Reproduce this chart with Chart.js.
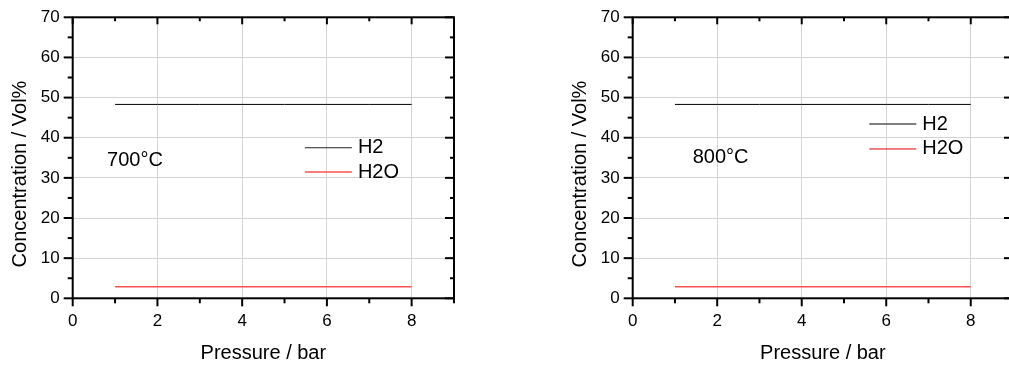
<!DOCTYPE html>
<html>
<head>
<meta charset="utf-8">
<script src="https://cdn.jsdelivr.net/npm/chart.js@4.4.1/dist/chart.umd.min.js"></script>
<style>
  html, body { margin:0; padding:0; background:#fff; width:1009px; height:365px; overflow:hidden; }
  .panel { position:absolute; top:0; width:500px; height:365px; }
</style>
</head>
<body>
<div class="panel" style="left:0px"><canvas id="c1"></canvas></div>
<div class="panel" style="left:560px"><canvas id="c2"></canvas></div>
<script>
// ---- data ----
const pressure = [1, 2, 3, 4, 5, 6, 7, 8];
const h2_700  = [48.3, 48.3, 48.3, 48.3, 48.3, 48.3, 48.3, 48.3];
const h2o_700 = [2.9, 2.9, 2.9, 2.9, 2.9, 2.9, 2.9, 2.9];
const h2_800  = [48.3, 48.3, 48.3, 48.3, 48.3, 48.3, 48.3, 48.3];
const h2o_800 = [2.9, 2.9, 2.9, 2.9, 2.9, 2.9, 2.9, 2.9];
const seriesNames = ['H2', 'H2O'];
const panelLabels = ['700°C', '800°C'];
const xMajorTicks = [0, 2, 4, 6, 8];
const xMinorTicks = [1, 3, 5, 7, 9];
const yMajorTicks = [0, 10, 20, 30, 40, 50, 60, 70];
const yMinorTicks = [5, 15, 25, 35, 45, 55, 65];
const xTitle = 'Pressure / bar';
const yTitle = 'Concentration / Vol%';

const FONT = '"Liberation Sans", Arial, sans-serif';
Chart.defaults.font.family = FONT;
Chart.defaults.color = '#000';

const toPts = (xs, ys) => xs.map((v, i) => ({ x: v, y: ys[i] }));

const framePlugin = {
  id: 'frame',
  afterDraw(chart, args, o) {
    const { ctx, chartArea: a, scales: { x, y } } = chart;
    ctx.save();
    ctx.strokeStyle = '#000';
    const line = (x1, y1, x2, y2, w) => { ctx.lineWidth = w; ctx.beginPath(); ctx.moveTo(x1, y1); ctx.lineTo(x2, y2); ctx.stroke(); };
    xMajorTicks.forEach(v => { const p = x.getPixelForValue(v); line(p, a.bottom, p, a.bottom + 8, 2); line(p, a.top, p, a.top + 7, 2); });
    xMinorTicks.forEach(v => { const p = x.getPixelForValue(v); line(p, a.bottom, p, a.bottom + 5, 2); line(p, a.top, p, a.top + 4, 2); });
    yMajorTicks.forEach(v => { const p = y.getPixelForValue(v); line(a.left - 9, p, a.left, p, 2); line(a.right - 9, p, a.right, p, 2); });
    yMinorTicks.forEach(v => { const p = y.getPixelForValue(v); line(a.left - 5, p, a.left, p, 2); line(a.right - 4, p, a.right, p, 2); });
    ctx.lineWidth = 2;
    ctx.strokeRect(a.left, a.top, a.right - a.left, a.bottom - a.top);

    // legend
    ctx.font = '20px ' + FONT;
    ctx.textBaseline = 'middle';
    ctx.textAlign = 'left';
    o.legend.forEach(l => {
      const x1 = x.getPixelForValue(l.x1), x2 = x.getPixelForValue(l.x2), py = y.getPixelForValue(l.y);
      ctx.strokeStyle = l.color; ctx.lineWidth = l.width;
      ctx.beginPath(); ctx.moveTo(x1, py); ctx.lineTo(x2, py); ctx.stroke();
      ctx.fillStyle = '#000';
      ctx.fillText(l.label, x2 + 6, py);
    });
    // annotation
    ctx.fillText(o.note.text, x.getPixelForValue(o.note.x), y.getPixelForValue(o.note.y));

    // axis titles
    ctx.textAlign = 'center';
    ctx.textBaseline = 'alphabetic';
    ctx.fillText(xTitle, (a.left + a.right) / 2, 359);
    ctx.translate(26, 174);
    ctx.rotate(-Math.PI / 2);
    ctx.fillText(yTitle, 0, 0);
    ctx.restore();
  }
};

function makeChart(id, h2, h2o, opts) {
  return new Chart(document.getElementById(id), {
    type: 'line',
    data: {
      datasets: [
        { label: seriesNames[0], data: toPts(pressure, h2), borderColor: '#000', borderWidth: 1, pointRadius: 0, tension: 0 },
        { label: seriesNames[1], data: toPts(pressure, h2o), borderColor: '#ff5050', borderWidth: 1.5, pointRadius: 0, tension: 0 }
      ]
    },
    options: {
      responsive: true,
      maintainAspectRatio: false,
      animation: false,
      events: [],
      layout: { padding: { left: 0, right: opts.right, top: 17.3, bottom: 0 } },
      plugins: { legend: { display: false }, tooltip: { enabled: false }, frame: opts.frame },
      scales: {
        x: {
          type: 'linear', min: 0, max: 9,
          afterBuildTicks: s => { s.ticks = xMajorTicks.map(v => ({ value: v })); },
          afterFit: s => { s.height = 66.7; s.paddingLeft = 0; s.paddingRight = 0; },
          grid: { color: '#d4d4d4', lineWidth: 1, drawTicks: false },
          border: { display: false },
          ticks: { font: { size: 17 }, color: '#000', padding: 13, maxRotation: 0 }
        },
        y: {
          type: 'linear', min: 0, max: 70,
          afterBuildTicks: s => { s.ticks = yMajorTicks.map(v => ({ value: v })); },
          afterFit: s => { s.width = 72.7; s.paddingTop = 0; s.paddingBottom = 0; },
          grid: { color: '#d4d4d4', lineWidth: 1, drawTicks: false },
          border: { display: false },
          ticks: { font: { size: 17 }, color: '#000', padding: 13 }
        }
      }
    },
    plugins: [framePlugin]
  });
}

makeChart('c1', h2_700, h2o_700, {
  right: 46,
  frame: {
    legend: [
      { label: seriesNames[0], color: '#222', width: 1, x1: 5.48, x2: 6.59, y: 37.5 },
      { label: seriesNames[1], color: '#ff5050', width: 1.5, x1: 5.48, x2: 6.59, y: 31.45 }
    ],
    note: { text: panelLabels[0], x: 0.81, y: 34.4 }
  }
});
makeChart('c2', h2_800, h2o_800, {
  right: 47,
  frame: {
    legend: [
      { label: seriesNames[0], color: '#555', width: 1.5, x1: 5.60, x2: 6.71, y: 43.4 },
      { label: seriesNames[1], color: '#e00000', width: 1, x1: 5.60, x2: 6.71, y: 37.2 }
    ],
    note: { text: panelLabels[1], x: 1.42, y: 35.1 }
  }
});
</script>
</body>
</html>
